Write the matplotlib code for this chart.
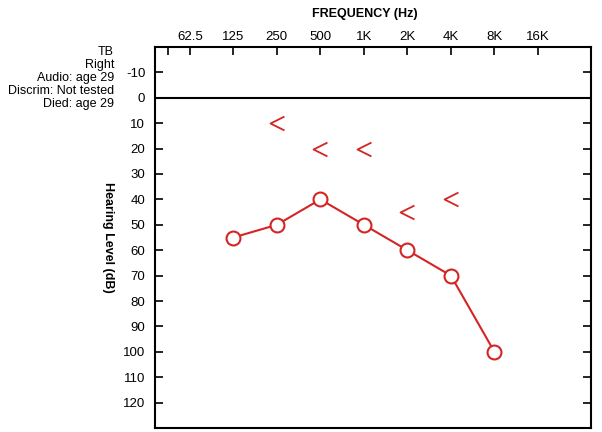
import numpy as np
import matplotlib
matplotlib.use('Agg')
import matplotlib.pyplot as plt
from matplotlib.path import Path
from matplotlib.ticker import NullFormatter

plt.rcParams['font.family'] = ['Liberation Sans', 'DejaVu Sans']

# air conduction, right ear
freqs = [125, 250, 500, 1000, 2000, 4000, 8000]
levels = [55, 50, 40, 50, 60, 70, 100]

# bone conduction (unmasked, right)
bone_freqs = [250, 500, 1000, 2000, 4000]
bone_levels = [10, 20, 20, 45, 40]

tick_freqs = [62.5, 125, 250, 500, 1000, 2000, 4000, 8000, 16000]
tick_labels = ['62.5', '125', '250', '500', '1K', '2K', '4K', '8K', '16K']
db_ticks = list(range(-10, 130, 10))

info_lines = ['TB', 'Right', 'Audio: age 29', 'Discrim: Not tested', 'Died: age 29']

red = '#d42424'

fig = plt.figure(figsize=(6.02, 4.32), dpi=100)
ax = fig.add_axes([155/602, 1 - 428/432, (591-155)/602, (428-47)/432])

ax.set_xscale('log', base=2)
ax.set_xlim(62.5 * 2**-0.8, 62.5 * 2**9.22)
ax.set_ylim(130, -20)

ax.axhline(0, color='black', lw=1.5)

chevron = Path([(1, 1), (-1, 0), (1, -1)], [Path.MOVETO, Path.LINETO, Path.LINETO])

ax.plot(freqs, levels, color=red, lw=1.5, marker='o', markersize=10,
        markerfacecolor='white', markeredgecolor=red, markeredgewidth=1.5)
ax.plot(bone_freqs, bone_levels, ls='none', marker=chevron, markersize=10,
        markerfacecolor='none', markeredgecolor=red, markeredgewidth=1.3)

ax.xaxis.tick_top()
ax.set_xticks(tick_freqs)
ax.set_xticklabels(tick_labels)
ax.set_xticks([62.5 * 2**-0.5], minor=True)
ax.xaxis.set_minor_formatter(NullFormatter())
ax.tick_params(axis='x', which='both', direction='in', length=6, width=1.2,
               pad=3, labelsize=9.5, top=True, bottom=False)

ax.set_yticks(db_ticks)
ax.set_yticklabels([str(v) for v in db_ticks])
ax.tick_params(axis='y', direction='in', length=6, width=1.2, pad=7,
               labelsize=9.5, left=True, right=True)

for s in ax.spines.values():
    s.set_linewidth(1.5)

fig.text(365/602, 1 - 14/432, 'FREQUENCY (Hz)', ha='center', va='center',
         fontsize=9, fontweight='bold')
fig.text(108/602, 1 - 237/432, 'Hearing Level (dB)', ha='center', va='center',
         rotation=-90, fontsize=9, fontweight='bold')

y0 = 52
for i, line in enumerate(info_lines):
    fig.text(114/602, 1 - (y0 + i * 13)/432, line, ha='right', va='center', fontsize=9)

fig.savefig('out.png', dpi=100)
